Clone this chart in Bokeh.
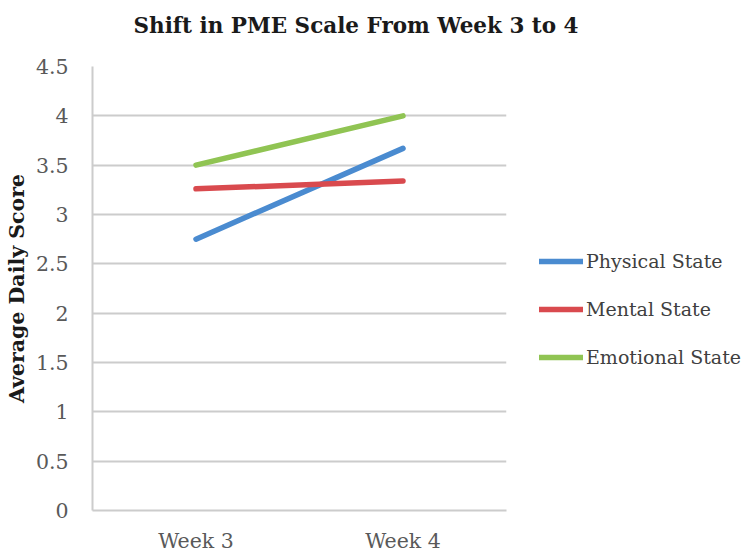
from bokeh.plotting import figure
from bokeh.models import FactorRange, Legend, LegendItem, Range1d, FixedTicker, Title
from bokeh.embed import file_html
from bokeh.resources import INLINE

weeks = ["Week 3", "Week 4"]
physical = [2.75, 3.67]
mental = [3.26, 3.34]
emotional = [3.50, 4.00]
series_names = ["Physical State", "Mental State", "Emotional State"]
colors = ["#4A8BD0", "#D94A4E", "#90C453"]
y_ticks = [0, 0.5, 1, 1.5, 2, 2.5, 3, 3.5, 4, 4.5]

FONT = "DejaVu Serif"

p = figure(frame_width=414, frame_height=444, output_backend="svg", toolbar_location=None,
           x_range=FactorRange(factors=weeks, range_padding=0),
           y_range=Range1d(0, 4.5),
           min_border_left=92, min_border_right=232, min_border_top=66, min_border_bottom=30)
p.outline_line_color = None
p.background_fill_color = "white"
p.border_fill_color = "white"

# spacer between frame and title (nearest the frame, added first)
spacer = Title(text=" ", text_font=FONT, text_font_size="10px", standoff=16)
p.add_layout(spacer, "above")
title = Title(text="Shift in PME Scale From Week 3 to 4", align="left", offset=41,
              text_font=FONT, text_font_size="21.5px", text_font_style="bold",
              text_color="#1a1a1a", standoff=0)
p.add_layout(title, "above")

p.xgrid.grid_line_color = None
p.ygrid.grid_line_color = "#cccccc"
p.ygrid.grid_line_width = 2
p.yaxis.ticker = FixedTicker(ticks=y_ticks)
p.yaxis.major_label_overrides = {0: "0", 0.5: "0.5", 1: "1", 1.5: "1.5", 2: "2",
                                 2.5: "2.5", 3: "3", 3.5: "3.5", 4: "4", 4.5: "4.5"}

for ax in (p.xaxis[0], p.yaxis[0]):
    ax.axis_line_color = "#cccccc"
    ax.axis_line_width = 2
    ax.major_tick_line_color = None
    ax.minor_tick_line_color = None
    ax.major_label_text_font = FONT
    ax.major_label_text_font_size = "20.5px"
    ax.major_label_text_color = "#595959"

p.yaxis.major_label_standoff = 18
p.xaxis.major_label_standoff = 12
p.yaxis.axis_label = "Average Daily Score"
p.yaxis.axis_label_text_font = FONT
p.yaxis.axis_label_text_font_size = "20.5px"
p.yaxis.axis_label_text_font_style = "bold"
p.yaxis.axis_label_text_color = "#1a1a1a"
p.yaxis.axis_label_standoff = 4

renderers = []
for vals, c in zip([physical, mental, emotional], colors):
    r = p.line(weeks, vals, line_color=c, line_width=5.5, line_cap="round")
    renderers.append(r)

legend = Legend(items=[LegendItem(label=n, renderers=[r]) for n, r in zip(series_names, renderers)],
                location=(33, 142), orientation="vertical",
                glyph_width=44, glyph_height=20, label_height=20, spacing=26,
                label_standoff=3, padding=0, margin=0,
                border_line_color=None, background_fill_alpha=0,
                label_text_font=FONT, label_text_font_size="19px", label_text_color="#404040")
p.add_layout(legend, "right")

open("out.html", "w").write(file_html(p, INLINE))
